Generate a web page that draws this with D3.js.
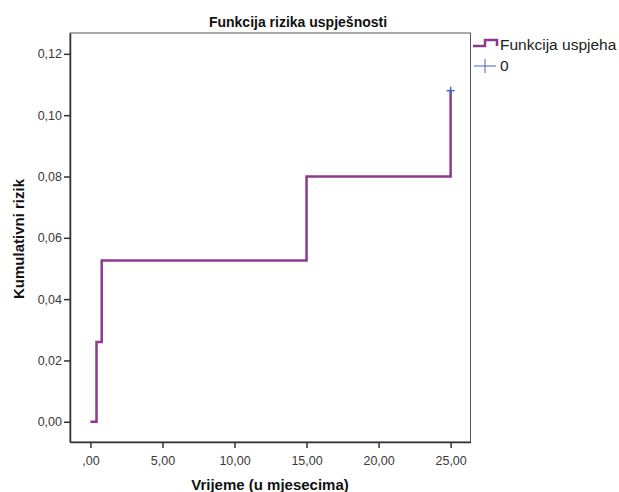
<!DOCTYPE html>
<html>
<head>
<meta charset="utf-8">
<script src="https://cdn.jsdelivr.net/npm/d3@7"></script>
<style>
  body { margin: 0; background: #fff; }
  svg { font-family: "Liberation Sans", Arial, sans-serif; }
</style>
</head>
<body>
<div id="chart"></div>
<script>
// step function values (time in months, cumulative hazard)
const times = [0, 0.42, 0.78, 15.0, 25.0];
const hazard = [0, 0.026, 0.0526, 0.080, 0.108];
const censored = [{t: 25.0, h: 0.108}];
const xTicks = [0, 5, 10, 15, 20, 25];
const yTicks = [0, 0.02, 0.04, 0.06, 0.08, 0.10, 0.12];
const legendLabels = ['Funkcija uspjeha', '0'];

const W = 619, H = 492;
const frame = {left: 70, top: 33, right: 470.5, bottom: 442};

const svg = d3.select('#chart').append('svg')
    .attr('width', W).attr('height', H);

const x = d3.scaleLinear().domain([-1.42, 26.38]).range([frame.left, frame.right]);
const y = d3.scaleLinear().domain([-0.0066, 0.1268]).range([frame.bottom, frame.top]);

const comma = v => d3.format('.2f')(v).replace('.', ',');

// frame
svg.append('rect')
    .attr('x', frame.left).attr('y', frame.top)
    .attr('width', frame.right - frame.left).attr('height', frame.bottom - frame.top)
    .attr('fill', 'none').attr('stroke', '#555').attr('stroke-width', 1);

// axes
const xAxis = svg.append('g')
    .attr('transform', `translate(0,${frame.bottom})`)
    .call(d3.axisBottom(x).tickValues(xTicks).tickSize(6).tickSizeOuter(0)
        .tickFormat(v => v === 0 ? ',00' : comma(v)));
const yAxis = svg.append('g')
    .attr('transform', `translate(${frame.left},0)`)
    .call(d3.axisLeft(y).tickValues(yTicks).tickSize(6).tickSizeOuter(0)
        .tickFormat(comma));

[xAxis, yAxis].forEach(a => {
    a.select('.domain').attr('stroke', '#333').attr('stroke-width', 1.5);
    a.selectAll('.tick line').attr('stroke', '#333').attr('stroke-width', 1.5);
    a.selectAll('.tick text').attr('fill', '#3a3a3a')
        .style('font-family', '"Liberation Sans", Arial, sans-serif')
        .style('font-size', '12.5px');
});
xAxis.selectAll('.tick text').attr('dy', '1.1em');
yAxis.selectAll('.tick text').attr('x', -8);

// step line
const pts = times.map((t, i) => [t, hazard[i]]);
const line = d3.line().x(d => x(d[0])).y(d => y(d[1])).curve(d3.curveStepAfter);
svg.append('path')
    .datum(pts)
    .attr('d', line)
    .attr('fill', 'none')
    .attr('stroke', '#8b3a8f')
    .attr('stroke-width', 2.5);

// censor marks
const plus = svg.selectAll('.cens').data(censored).enter().append('g')
    .attr('transform', d => `translate(${x(d.t)},${y(d.h)})`);
plus.append('line').attr('x1', -4).attr('x2', 4).attr('stroke', '#4a62c0').attr('stroke-width', 1.5);
plus.append('line').attr('y1', -4).attr('y2', 4).attr('stroke', '#4a62c0').attr('stroke-width', 1.5);

// title and axis titles
svg.append('text')
    .attr('x', 298).attr('y', 27)
    .attr('text-anchor', 'middle')
    .style('font-size', '14px').style('font-weight', 'bold').attr('fill', '#111')
    .text('Funkcija rizika uspješnosti');
svg.append('text')
    .attr('x', 270).attr('y', 490)
    .attr('text-anchor', 'middle')
    .style('font-size', '15px').style('font-weight', 'bold').attr('fill', '#111')
    .text('Vrijeme (u mjesecima)');
svg.append('text')
    .attr('transform', 'translate(24,239) rotate(-90)')
    .attr('text-anchor', 'middle')
    .style('font-size', '15px').style('font-weight', 'bold').attr('fill', '#111')
    .text('Kumulativni rizik');

// legend
const lg = svg.append('g').attr('transform', 'translate(473,0)');
lg.append('path')
    .attr('d', d3.line()([[0, 46], [12, 46], [12, 40], [24, 40], [24, 46]]))
    .attr('fill', 'none').attr('stroke', '#8b3a8f').attr('stroke-width', 2.5);
lg.append('text').attr('x', 27).attr('y', 50)
    .style('font-size', '15.5px').attr('fill', '#222').text(legendLabels[0]);
lg.append('line').attr('x1', 1).attr('x2', 23).attr('y1', 66).attr('y2', 66)
    .attr('stroke', '#4a62c0').attr('stroke-width', 1);
lg.append('line').attr('x1', 12).attr('x2', 12).attr('y1', 59).attr('y2', 73)
    .attr('stroke', '#4a62c0').attr('stroke-width', 1);
lg.append('text').attr('x', 27).attr('y', 71)
    .style('font-size', '15.5px').attr('fill', '#222').text(legendLabels[1]);
</script>
</body>
</html>
